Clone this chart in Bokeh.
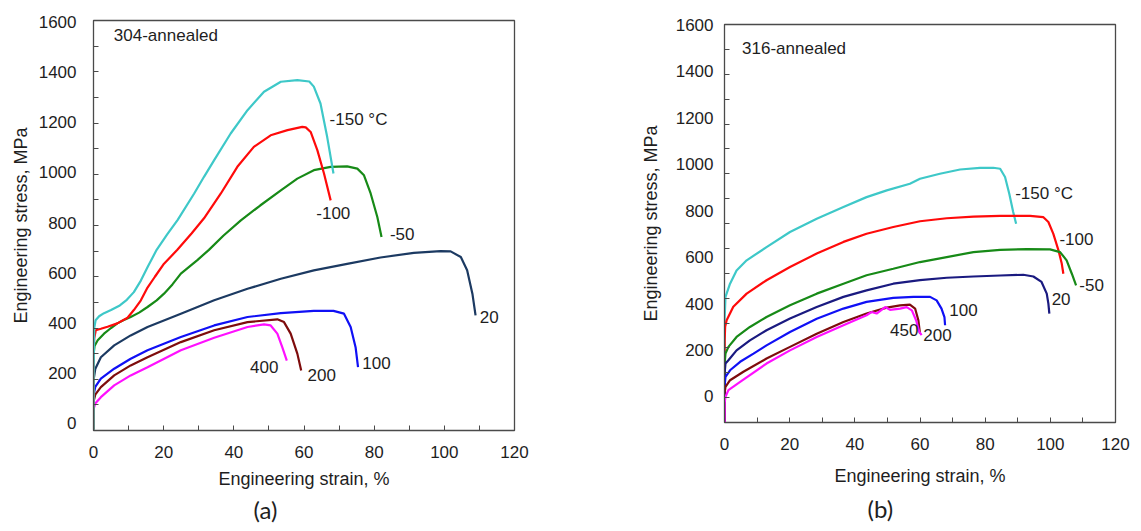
from bokeh.plotting import figure
from bokeh.models import Range1d, LinearAxis, FixedTicker, Title
from bokeh.core.properties import value
from bokeh.embed import file_html
from bokeh.resources import INLINE

# ---------------- data: 304 annealed (panel a) ----------------
a_m150_x = [0, 0.05, 0.2, 0.6, 1.6, 3, 5, 7.5, 9.5, 11.5, 13.5, 15.5, 18, 21, 24, 28.7, 31.5, 34.4, 39.1, 43.9, 48.6, 53.4, 58.1, 61.5, 62.8, 64.7, 66.6, 68.4]
a_m150_y = [0, 250, 400, 430, 446, 458, 470, 488, 510, 540, 585, 640, 705, 765, 822, 925, 990, 1055, 1159, 1250, 1322, 1361, 1367, 1362, 1342, 1276, 1146, 1003]
a_m100_x = [0, 0.05, 0.2, 0.66, 2.1, 4, 6.8, 9.7, 11.5, 13.5, 15.4, 17.5, 20.1, 23.9, 28, 31.5, 36.3, 41, 45.7, 50.5, 55.3, 59.5, 60.5, 61.9, 63.8, 65.7, 67.6]
a_m100_y = [0, 300, 360, 391, 397, 405, 418, 440, 470, 508, 558, 600, 651, 705, 770, 828, 925, 1029, 1107, 1152, 1172, 1185, 1183, 1165, 1094, 1003, 898]
a_m50_x = [0, 0.05, 0.3, 1.2, 3, 5, 6.8, 8.5, 10.6, 13, 15.4, 18, 20.1, 22.5, 24.9, 29.6, 32.9, 37, 42, 47.5, 53.4, 58.1, 62.8, 67.6, 72.3, 75.2, 77.1, 79, 80.9, 82.1]
a_m50_y = [0, 300, 330, 352, 378, 400, 418, 430, 443, 460, 482, 508, 534, 570, 612, 665, 705, 760, 820, 878, 937, 983, 1016, 1029, 1031, 1022, 996, 925, 833, 755]
a_20_x = [0, 0.05, 0.5, 2.1, 5.9, 10.6, 15.4, 24.9, 34.4, 43.9, 53.4, 62.8, 72.3, 81.8, 91.3, 98.9, 101.8, 104.7, 106.5, 108, 108.9]
a_20_y = [0, 200, 240, 286, 332, 371, 404, 456, 508, 553, 592, 625, 650, 675, 693, 700, 699, 677, 625, 534, 449]
a_100_x = [0, 0.05, 0.5, 2.1, 5.9, 10.6, 15.4, 24.9, 34.4, 43.9, 53.4, 62.8, 68.4, 71.4, 73.3, 74.7, 75.4]
a_100_y = [0, 140, 170, 202, 241, 280, 313, 365, 410, 443, 458, 467, 467, 456, 404, 325, 247]
a_200_x = [0, 0.05, 0.5, 2.1, 5.9, 10.6, 15.4, 24.9, 34.4, 43.9, 52.4, 54.3, 56.2, 58.1, 59.2]
a_200_y = [0, 115, 140, 169, 215, 254, 286, 345, 391, 423, 434, 423, 378, 300, 234]
a_400_x = [0, 0.05, 0.5, 2.1, 5.9, 10.6, 15.4, 24.9, 34.4, 43.9, 48.6, 50.5, 52.4, 53.8, 55.1]
a_400_y = [0, 85, 105, 130, 176, 215, 247, 313, 362, 404, 414, 410, 378, 325, 273]

# ---------------- data: 316 annealed (panel b) ----------------
b_m150_x = [0, 0.05, 0.3, 1.7, 3.7, 6.8, 12.9, 20.1, 28.3, 36.5, 43.6, 49.8, 56.9, 60, 66.1, 72.3, 78.4, 82.5, 84.6, 86.1, 87.4, 88.6, 89.5]
b_m150_y = [0, 420, 505, 558, 611, 652, 705, 766, 819, 866, 906, 933, 960, 980, 1000, 1017, 1024, 1024, 1020, 987, 920, 846, 799]
b_m100_x = [0, 0.05, 0.2, 0.66, 2.7, 6.8, 12.9, 20.1, 28.3, 36.5, 43.6, 51.8, 60, 68.2, 76.4, 84.6, 93.8, 97.8, 99.4, 100.9, 102.5, 103.5, 104]
b_m100_y = [0, 330, 385, 411, 465, 518, 572, 625, 679, 726, 759, 786, 809, 821, 828, 831, 831, 826, 806, 759, 692, 639, 598]
b_m50_x = [0, 0.05, 0.3, 1.2, 3.7, 7.8, 12.9, 20.1, 28.3, 36.5, 43.6, 51.8, 60, 68.2, 76.4, 84.6, 92.8, 99.9, 103, 105, 106.6, 107.9]
b_m50_y = [0, 240, 277, 304, 344, 384, 424, 471, 518, 558, 592, 618, 645, 665, 685, 694, 697, 696, 685, 652, 598, 551]
b_20_x = [0, 0.05, 0.3, 1.2, 3.7, 7.8, 12.9, 20.1, 28.3, 36.5, 43.6, 51.8, 60, 68.2, 76.4, 84.6, 91.7, 94.8, 97.3, 98.9, 99.4, 99.7]
b_20_y = [0, 200, 237, 250, 290, 330, 371, 418, 464, 505, 531, 558, 572, 582, 587, 591, 594, 587, 565, 518, 478, 438]
b_100_x = [0, 0.05, 0.3, 1.7, 4.8, 8.9, 12.9, 20.1, 28.3, 36.5, 43.6, 51.8, 58, 63.1, 65.1, 66.6, 67.5, 67.7]
b_100_y = [0, 150, 183, 210, 244, 277, 310, 364, 417, 458, 485, 501, 505, 505, 491, 458, 424, 391]
b_200_x = [0, 0.05, 0.3, 1.7, 5.8, 12.9, 20.1, 28.3, 36.5, 43.6, 49.8, 53.9, 56.9, 58.5, 59.5, 60]
b_200_y = [0, 120, 143, 170, 204, 257, 304, 357, 404, 438, 462, 471, 474, 458, 411, 357]
b_450_x = [0, 0.05, 0.3, 1.2, 4.8, 12.9, 20.1, 28.3, 36.5, 43.6, 45.1, 46.7, 49.3, 50.8, 53.9, 55.9, 57.5, 58.8, 59.8, 60.5]
b_450_y = [0, 80, 103, 130, 163, 237, 290, 344, 391, 431, 444, 438, 464, 453, 458, 464, 451, 411, 364, 351]

y_tick_labels = [0, 200, 400, 600, 800, 1000, 1200, 1400, 1600]
y_tick_marks = [0, 100, 200, 300, 400, 500, 600, 700, 800, 900, 1000, 1100, 1200, 1300, 1400, 1500, 1600]
x_tick_labels = [0, 20, 40, 60, 80, 100, 120]

FONT = "Liberation Sans"
TXT = "#1e1e1e"
AX = "#4a4a4a"
C_CYAN, C_RED, C_GREEN = "#3EC8C8", "#FF0A0A", "#178A17"
C_BLUE, C_BROWN, C_MAG = "#1010F5", "#7E0C0C", "#FF10FF"


def make_panel(width, height, bl, br, bt, bb, lbl_range, lbl_standoff, ytitle_standoff,
               xlbl_standoff, xtitle_standoff):
    p = figure(width=width, height=height, x_range=Range1d(0, 120), y_range=Range1d(0, 1600),
               output_backend="svg", toolbar_location=None,
               min_border_left=bl, min_border_right=br, min_border_top=bt, min_border_bottom=bb)
    p.xgrid.visible = False
    p.ygrid.visible = False
    p.outline_line_color = AX
    p.outline_line_width = 1.3
    p.background_fill_color = "white"
    p.border_fill_color = "white"

    xa = p.xaxis[0]
    xa.ticker = FixedTicker(ticks=x_tick_labels,
                            minor_ticks=[v + 10 for v in x_tick_labels[:-1]])
    xa.major_tick_in = 5
    xa.major_tick_out = 0
    xa.minor_tick_in = 5
    xa.minor_tick_out = 0
    xa.axis_line_color = AX
    xa.major_tick_line_color = AX
    xa.minor_tick_line_color = AX
    xa.major_label_text_font = FONT
    xa.major_label_text_font_size = "17px"
    xa.major_label_text_color = TXT
    xa.major_label_standoff = xlbl_standoff
    xa.axis_label = "Engineering strain, %"
    xa.axis_label_text_font = FONT
    xa.axis_label_text_font_size = "18px"
    xa.axis_label_text_font_style = "normal"
    xa.axis_label_text_color = TXT
    xa.axis_label_standoff = xtitle_standoff

    # inner y axis: tick marks only (minor ticks carry no labels)
    ya = p.yaxis[0]
    ya.ticker = FixedTicker(ticks=[], minor_ticks=y_tick_marks)
    ya.minor_tick_in = 5
    ya.minor_tick_out = 0
    ya.major_tick_out = 0
    ya.axis_line_color = AX
    ya.minor_tick_line_color = AX
    ya.major_label_standoff = 0

    # outer y axis: labels only
    p.extra_y_ranges = {"lbl": Range1d(*lbl_range)}
    la = LinearAxis(y_range_name="lbl",
                    ticker=FixedTicker(ticks=y_tick_labels),
                    axis_line_color=None, major_tick_line_color=None, minor_tick_line_color=None,
                    major_tick_in=0, major_tick_out=0,
                    major_label_standoff=lbl_standoff,
                    major_label_text_font=FONT, major_label_text_font_size="17px",
                    major_label_text_color=TXT,
                    axis_label="Engineering stress, MPa", axis_label_text_font=FONT,
                    axis_label_text_font_size="18px", axis_label_text_font_style="normal",
                    axis_label_text_color=TXT, axis_label_standoff=ytitle_standoff)
    p.add_layout(la, "left")
    return p


def note(p, x, y, text, size="17px"):
    p.text(x=[x], y=[y], text=[text], text_font=value(FONT), text_font_size=size,
           text_color=TXT, text_baseline="middle", text_align="left")


def tag(p, text, offset, standoff):
    p.add_layout(Title(text=text, align="left", offset=offset, standoff=standoff,
                       vertical_align="top", text_font="Lato", text_font_size="24px",
                       text_font_style="normal", text_color=TXT), "below")


# ---------------- panel (a) ----------------
pa = make_panel(570, 531, 93, 56, 20, 101, (-28, 1605), 17, 5, 15, 8)
for xs, ys, c in [(a_400_x, a_400_y, C_MAG), (a_200_x, a_200_y, C_BROWN), (a_100_x, a_100_y, C_BLUE),
                  (a_20_x, a_20_y, "#1C3A62"), (a_m50_x, a_m50_y, C_GREEN),
                  (a_m100_x, a_m100_y, C_RED), (a_m150_x, a_m150_y, C_CYAN)]:
    pa.line(xs, ys, line_color=c, line_width=2.2)
note(pa, 5.8, 1543, "304-annealed")
note(pa, 67.3, 1215, "-150 \u00b0C")
note(pa, 63.5, 850, "-100")
note(pa, 84.5, 768, "-50")
note(pa, 110.1, 443, "20")
note(pa, 76.6, 263, "100")
note(pa, 61.0, 215, "200")
note(pa, 44.6, 247, "400")
tag(pa, "(a)", 160, 7)

# ---------------- panel (b) ----------------
pb = make_panel(571, 531, 154, 26, 24, 109, (-112, 1601), 11, 12, 15, 13)
for xs, ys, c in [(b_m150_x, b_m150_y, C_CYAN), (b_m100_x, b_m100_y, C_RED), (b_m50_x, b_m50_y, C_GREEN),
                  (b_20_x, b_20_y, "#1A1A80"), (b_100_x, b_100_y, C_BLUE),
                  (b_200_x, b_200_y, C_BROWN), (b_450_x, b_450_y, C_MAG)]:
    pb.line(xs, ys, line_color=c, line_width=2.2)
note(pb, 5.4, 1505, "316-annealed")
note(pb, 89.2, 920, "-150 \u00b0C")
note(pb, 102.8, 739, "-100")
note(pb, 108.9, 551, "-50")
note(pb, 100.4, 498, "20")
note(pb, 69.0, 451, "100")
note(pb, 50.8, 371, "450")
note(pb, 61.0, 353, "200")
tag(pb, "(b)", 143, 10)

# two independent roots side by side (so the two plot frames are not aligned to each other)
TEMPLATE = """
{% block postamble %}
<style>
  body { display: flex !important; flex-direction: row; align-items: flex-start; }
</style>
{% endblock %}
"""
open("out.html", "w").write(file_html([pa, pb], INLINE, template=TEMPLATE))
